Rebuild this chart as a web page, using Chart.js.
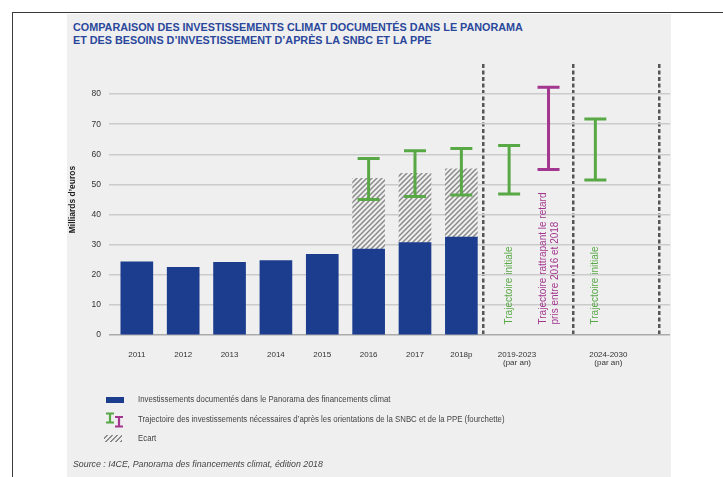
<!DOCTYPE html>
<html lang="fr">
<head>
<meta charset="utf-8">
<script src="https://cdn.jsdelivr.net/npm/chart.js@4/dist/chart.umd.min.js"></script>
<style>
  html, body { margin: 0; padding: 0; background: #fff; }
  body { width: 723px; height: 477px; position: relative; overflow: hidden; font-family: "Liberation Sans", Arial, sans-serif; }
  .cadre-h { position: absolute; left: 12px; top: 12px; width: 711px; height: 0; border-top: 1.5px solid #3a3a3a; }
  .cadre-v { position: absolute; left: 12px; top: 12px; width: 0; height: 465px; border-left: 1.5px solid #3a3a3a; }
  .panneau { position: absolute; left: 67px; top: 14px; width: 604px; height: 463px; background: #efefef; }
  .titre { position: absolute; left: 73px; top: 21px; font-weight: bold; font-size: 10.8px; line-height: 13px; color: #2a479c; white-space: nowrap; }
  #zone { position: absolute; left: 0; top: 0; width: 723px; height: 477px; }
  .leg { position: absolute; left: 104px; font-size: 8.5px; color: #444; white-space: nowrap; }
  .leg span.txt { position: absolute; left: 34px; top: -6px; transform: scaleX(0.92); transform-origin: left center; }
  .ico-bleu { position: absolute; left: 2px; top: -3px; width: 18px; height: 6px; background: #1c3c8e; }
  .ico-hach { position: absolute; left: 0; top: -4px; width: 18px; height: 7px;
    background: repeating-linear-gradient(135deg, #efefef 0 2px, #8a8a8a 2px 3.5px); }
  .source { position: absolute; left: 73px; top: 459px; font-size: 8.8px; font-style: italic; color: #444; white-space: nowrap; }
</style>
</head>
<body>
<div class="cadre-h"></div>
<div class="cadre-v"></div>
<div class="panneau"></div>
<div class="titre">COMPARAISON DES INVESTISSEMENTS CLIMAT DOCUMENTÉS DANS LE PANORAMA<br>ET DES BESOINS D’INVESTISSEMENT D’APRÈS LA SNBC ET LA PPE</div>
<div id="zone"><canvas id="graphique"></canvas></div>

<div class="leg" style="top:400px"><div class="ico-bleu"></div><span class="txt">Investissements documentés dans le Panorama des financements climat</span></div>
<div class="leg" style="top:420px">
  <svg style="position:absolute;left:1px;top:-8px" width="20" height="16" viewBox="0 0 20 16">
    <path d="M1 1.5h8M5 1.5v9M1 10.5h8" stroke="#58a846" stroke-width="2.2" fill="none"/>
    <path d="M10 5h8M14 5v9.5M10 14.5h8" stroke="#a3368f" stroke-width="2.2" fill="none"/>
  </svg>
  <span class="txt">Trajectoire des investissements nécessaires d’après les orientations de la SNBC et de la PPE (fourchette)</span></div>
<div class="leg" style="top:439px"><div class="ico-hach"></div><span class="txt">Ecart</span></div>
<div class="source">Source : I4CE, Panorama des financements climat, édition 2018</div>

<script>
// années documentées (positions 1..8 sur l'axe x)
const ANNEES      = ["2011", "2012", "2013", "2014", "2015", "2016", "2017", "2018p"];
const ANNEES_X    = [1, 2, 3, 4, 5, 6, 7, 8];
const INVESTIS    = [24.3, 22.5, 24.1, 24.7, 26.8, 28.5, 30.7, 32.5];

// écart (hachuré) au-dessus des barres 2016-2018
const ECART_X     = [6, 7, 8];
const ECART_HAUT  = [52, 53.7, 55.2];

// fourchettes SNBC / PPE
const FOURCH_X    = [6, 7, 8, 9.03, 9.88, 10.89];
const FOURCH_BAS  = [45, 46, 46.5, 46.8, 55, 51.5];
const FOURCH_HAUT = [58.6, 61.2, 61.9, 62.9, 82.3, 71.7];
const FOURCH_TYPE = ["initiale", "initiale", "initiale", "initiale", "rattrapage", "initiale"];

// périodes futures
const PERIODES    = [["2019-2023", "(par an)"], ["2024-2030", "(par an)"]];
const PERIODES_X  = [9.2, 11.17];
const SEPARATEURS = [8.47, 10.41, 12.27];

const NOTES_X     = [9.03, 9.9, 10.89];
const NOTES       = [["Trajectoire initiale"], ["Trajectoire rattrapant le retard", "pris entre 2016 et 2018"], ["Trajectoire initiale"]];

const Y_TICKS     = [0, 10, 20, 30, 40, 50, 60, 70, 80];

const COULEURS = {
  bleu:       "#1c3c8e",
  initiale:   "#58a846",
  rattrapage: "#a3368f",
  grille:     "#cbcbcb",
  texte:      "#333",
};

function hachures() {
  const c = document.createElement("canvas");
  c.width = 5; c.height = 5;
  const g = c.getContext("2d");
  g.fillStyle = "#efefef";
  g.fillRect(0, 0, 5, 5);
  g.strokeStyle = "#8a8a8a";
  g.lineWidth = 1.5;
  g.beginPath();
  g.moveTo(-1, 6); g.lineTo(6, -1);
  g.moveTo(-1, 1); g.lineTo(1, -1);
  g.moveTo(4, 6); g.lineTo(6, 4);
  g.stroke();
  return g.createPattern(c, "repeat");
}

const tickLabels = [...ANNEES, ...PERIODES];
const tickPos    = [...ANNEES_X, ...PERIODES_X];

const fourchettes = {
  id: "fourchettes",
  afterDatasetsDraw(chart) {
    const { ctx, scales: { x, y } } = chart;
    ctx.save();
    ctx.lineWidth = 3;
    FOURCH_X.forEach((v, i) => {
      const px = x.getPixelForValue(v);
      const yb = y.getPixelForValue(FOURCH_BAS[i]);
      const yh = y.getPixelForValue(FOURCH_HAUT[i]);
      ctx.strokeStyle = COULEURS[FOURCH_TYPE[i]];
      ctx.beginPath();
      ctx.moveTo(px - 11, yh); ctx.lineTo(px + 11, yh);
      ctx.moveTo(px, yh);      ctx.lineTo(px, yb);
      ctx.moveTo(px - 11, yb); ctx.lineTo(px + 11, yb);
      ctx.stroke();
    });

    // notes verticales
    ctx.font = "10px 'Liberation Sans', Arial, sans-serif";
    ctx.textAlign = "left";
    ctx.textBaseline = "middle";
    const bas = y.getPixelForValue(3.5);
    NOTES.forEach((lignes, i) => {
      const px = x.getPixelForValue(NOTES_X[i]);
      ctx.fillStyle = lignes.length > 1 ? COULEURS.rattrapage : COULEURS.initiale;
      lignes.forEach((t, k) => {
        const dx = (k - (lignes.length - 1) / 2) * 12.5;
        ctx.save();
        ctx.translate(px + dx, bas);
        ctx.rotate(-Math.PI / 2);
        ctx.fillText(t, 0, 0);
        ctx.restore();
      });
    });
    ctx.restore();
  }
};

new Chart(document.getElementById("graphique"), {
  type: "bar",
  data: {
    datasets: [
      {
        label: "Investissements documentés",
        data: ANNEES_X.map((v, i) => ({ x: v, y: INVESTIS[i] })),
        backgroundColor: COULEURS.bleu,
        barThickness: 32,
        grouped: false,
      },
      {
        label: "Ecart",
        data: ECART_X.map((v, i) => ({ x: v, y: [INVESTIS[ANNEES_X.indexOf(v)], ECART_HAUT[i]] })),
        backgroundColor: hachures(),
        barThickness: 32,
        grouped: false,
      },
    ]
  },
  plugins: [fourchettes],
  options: {
    responsive: true,
    maintainAspectRatio: false,
    animation: false,
    layout: { padding: { left: 60, right: 53, top: 64, bottom: 100 } },
    plugins: { legend: { display: false }, tooltip: { enabled: false } },
    scales: {
      x: {
        type: "linear",
        offset: false,
        min: 0.4, max: 12.5,
        grid: { display: false, offset: false },
        border: { display: false },
        afterBuildTicks: s => { s.ticks = tickPos.map(v => ({ value: v })); },
        afterFit: s => { s.height = 42; },
        ticks: {
          autoSkip: false,
          maxRotation: 0,
          padding: 7,
          color: COULEURS.texte,
          font: { size: 8, lineHeight: 1.1, family: "'Liberation Sans', Arial, sans-serif" },
          callback: (v, i) => tickLabels[i],
        },
      },
      xs: {
        type: "linear",
        position: "bottom",
        offset: false,
        min: 0.4, max: 12.5,
        afterBuildTicks: s => { s.ticks = SEPARATEURS.map(v => ({ value: v })); },
        afterFit: s => { s.height = 0; },
        ticks: { display: false },
        border: { display: false, dash: [4, 2.5] },
        grid: { color: "#555", lineWidth: 2.5, drawTicks: false, offset: false },
      },
      y: {
        min: 0, max: 90,
        afterBuildTicks: s => { s.ticks = [...Y_TICKS, 90].map(v => ({ value: v })); },
        afterFit: s => { s.width = 49; },
        border: { display: false },
        grid: {
          drawTicks: false,
          lineWidth: 1.5,
          color: c => c.tick.value === 90 ? "rgba(0,0,0,0)" : (c.tick.value === 0 ? "#aaa" : COULEURS.grille),
        },
        ticks: {
          padding: 8,
          color: COULEURS.texte,
          font: { size: 8.5, family: "'Liberation Sans', Arial, sans-serif" },
          callback: v => v === 90 ? "" : v,
        },
        title: {
          display: true,
          text: "Milliards d’euros",
          color: "#222",
          padding: { top: 8, bottom: 0 },
          font: { size: 8.5, weight: "bold", family: "'Liberation Sans', Arial, sans-serif" },
        },
      },
    },
  },
});
</script>
</body>
</html>
